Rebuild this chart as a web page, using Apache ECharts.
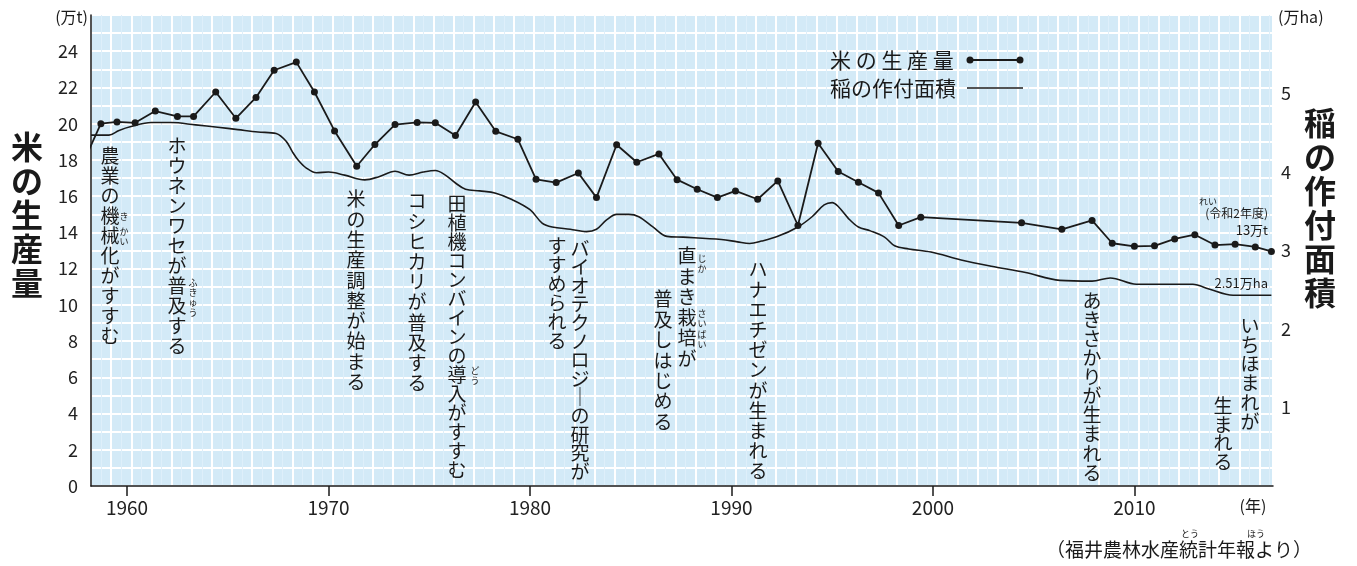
<!DOCTYPE html>
<html>
<head>
<meta charset="utf-8">
<script src="https://cdn.jsdelivr.net/npm/echarts@6.0.0/dist/echarts.min.js"></script>
<style>
  html, body { margin: 0; padding: 0; background: #fff; }
  #chart { width: 1357px; height: 566px; }
</style>
</head>
<body>
<div id="chart"></div>
<script>
// 米の生産量（万t）: 年と値
var prodYears = [1957.7, 1958.7, 1959.5, 1960.4, 1961.4, 1962.5, 1963.3, 1964.4, 1965.4, 1966.4,
  1967.3, 1968.4, 1969.3, 1970.3, 1971.4, 1972.3, 1973.3, 1974.4, 1975.3, 1976.3,
  1977.3, 1978.3, 1979.4, 1980.3, 1981.3, 1982.4, 1983.3, 1984.3, 1985.3, 1986.4,
  1987.3, 1988.3, 1989.3, 1990.2, 1991.3, 1992.3, 1993.3, 1994.3, 1995.3, 1996.3,
  1997.3, 1998.3, 1999.4, 2004.4, 2006.4, 2007.9, 2008.9, 2010.0, 2011.0, 2012.0,
  2013.0, 2014.0, 2015.0, 2016.0, 2016.8]
var prodTons = [17.56, 20.0, 20.1, 20.05, 20.7, 20.4, 20.4, 21.75, 20.3, 21.45,
  22.95, 23.4, 21.75, 19.6, 17.65, 18.85, 19.95, 20.07, 20.05, 19.35,
  21.2, 19.58, 19.14, 16.93, 16.75, 17.28, 15.92, 18.84, 17.87, 18.33,
  16.91, 16.38, 15.92, 16.29, 15.83, 16.84, 14.38, 18.92, 17.36, 16.77,
  16.18, 14.38, 14.84, 14.53, 14.17, 14.66, 13.4, 13.23, 13.26, 13.64,
  13.87, 13.3, 13.35, 13.2, 12.95]

// 稲の作付面積（万ha）
var areaYears = [1958.21, 1959.1, 1959.6, 1960.2, 1961.2, 1962.2, 1963.4, 1964.5, 1965.5, 1966.5,
  1967.4, 1967.9, 1968.2, 1968.5, 1968.9, 1969.4, 1970.0, 1970.8, 1971.8, 1972.5,
  1973.3, 1974.0, 1974.7, 1975.3, 1975.8, 1976.3, 1976.8, 1977.5, 1978.3, 1979.1,
  1980.0, 1980.6, 1981.1, 1982.0, 1982.8, 1983.3, 1983.8, 1984.3, 1984.9, 1985.4,
  1986.1, 1986.8, 1987.6, 1989.5, 1990.3, 1990.9, 1991.5, 1992.3, 1993.3, 1994.0,
  1994.6, 1995.0, 1995.3, 1995.8, 1996.3, 1996.9, 1997.6, 1998.1, 1998.8, 1999.9,
  2001.4, 2002.9, 2004.6, 2006.3, 2007.9, 2008.8, 2010.1, 2012.9, 2013.7, 2014.9,
  2016.8]
var areaHa = [4.47, 4.47, 4.53, 4.58, 4.63, 4.63, 4.60, 4.57, 4.54, 4.51,
  4.49, 4.39, 4.26, 4.15, 4.05, 3.99, 4.00, 3.96, 3.90, 3.94,
  4.01, 3.96, 4.00, 4.02, 3.96, 3.86, 3.78, 3.76, 3.73, 3.65,
  3.52, 3.35, 3.30, 3.27, 3.24, 3.27, 3.39, 3.46, 3.46, 3.43,
  3.30, 3.18, 3.17, 3.14, 3.11, 3.09, 3.12, 3.18, 3.30, 3.43,
  3.58, 3.61, 3.56, 3.41, 3.30, 3.25, 3.17, 3.06, 3.02, 2.98,
  2.88, 2.80, 2.72, 2.62, 2.61, 2.65, 2.57, 2.57, 2.51, 2.43,
  2.43]

var decadeTicks = [1960, 1970, 1980, 1990, 2000, 2010]

var FONT = '"Noto Sans CJK JP", sans-serif'
var INK = '#1a1a1a'

// 縦書きテキスト（1文字ずつ改行）
function vText (str, x, top, size, lh, extra) {
  var style = {
    text: str.split('').join('\n'),
    fontSize: size,
    fontFamily: FONT,
    lineHeight: lh,
    fill: INK,
    textAlign: 'center',
    textVerticalAlign: 'top'
  }
  if (extra) Object.keys(extra).forEach(function (k) { style[k] = extra[k] })
  return { type: 'text', x: x, y: top, z: 10, style: style }
}
function hText (str, x, y, size, align) {
  return {
    type: 'text', x: x, y: y, z: 10,
    style: { text: str, fontSize: size, fontFamily: FONT, fill: INK,
      textAlign: align || 'left', textVerticalAlign: 'middle' }
  }
}

var chart = echarts.init(document.getElementById('chart'))

var graphics = [
  // 軸タイトル
  vText('米の生産量', 27, 130, 32, 34, { fontWeight: 'bold' }),
  vText('稲の作付面積', 1320, 106, 32, 34, { fontWeight: 'bold' }),
  hText('(万t)', 88, 17, 16, 'right'),
  hText('(万ha)', 1278, 17, 16, 'left'),
  hText('(年)', 1253, 506, 16, 'center'),
  hText('（福井農林水産統計年報より）', 1046, 550, 19, 'left'),
  hText('とう', 1190, 534, 9, 'center'),
  hText('ほう', 1256, 534, 9, 'center'),

  // 凡例
  hText('米 の 生 産 量', 830, 60, 21, 'left'),
  hText('稲の作付面積', 830, 88, 21, 'left'),
  { type: 'line', z: 10, shape: { x1: 970, y1: 60, x2: 1020, y2: 60 }, style: { stroke: INK, lineWidth: 1.8 } },
  { type: 'circle', z: 10, shape: { cx: 970, cy: 60, r: 3.5 }, style: { fill: INK } },
  { type: 'circle', z: 10, shape: { cx: 1020, cy: 60, r: 3.5 }, style: { fill: INK } },
  { type: 'line', z: 10, shape: { x1: 967, y1: 88, x2: 1023, y2: 88 }, style: { stroke: INK, lineWidth: 1.6 } },

  // 最新値の注記
  hText('れい', 1208, 202, 9, 'center'),
  hText('(令和2年度)', 1268, 213, 12, 'right'),
  hText('13万t', 1268, 230, 13, 'right'),
  hText('2.51万ha', 1268, 283, 13, 'right'),

  // できごと
  vText('農業の機械化がすすむ', 110, 146, 19, 20),
  vText('き', 124, 212, 9, 10),
  vText('かい', 124, 227, 9, 10),
  vText('ホウネンワセが普及する', 177, 136, 19, 20),
  vText('ふきゅう', 193, 278, 9, 10),
  vText('米の生産調整が始まる', 356, 189, 19, 20.3),
  vText('コシヒカリが普及する', 417, 191, 19, 20.2),
  vText('田植機コンバインの導入がすすむ', 457, 194, 19, 19),
  vText('どう', 475, 366, 9, 10),
  vText('バイオテクノロジ｜の研究が', 580, 239, 19, 18.6),
  vText('すすめられる', 557, 236, 19, 19),
  vText('直まき栽培が', 687, 246, 19, 20.5),
  vText('じか', 702, 254, 9, 10),
  vText('さいばい', 702, 308, 9, 10.5),
  vText('普及しはじめる', 663, 289, 19, 20.4),
  vText('ハナエチゼンが生まれる', 758, 259, 19, 20.2),
  vText('あきさかりが生まれる', 1092, 291, 19, 19.1),
  vText('いちほまれが', 1250, 316, 19, 19.2),
  vText('生まれる', 1223, 397, 19, 18.4)
]

chart.setOption({
  animation: false,
  grid: {
    left: 91, right: 84, top: 15, bottom: 80,
    show: true, backgroundColor: '#d3eaf7', borderColor: '#777', borderWidth: 1
  },
  xAxis: [
    {
      type: 'value', min: 1958.21, max: 2016.88,
      axisLine: { lineStyle: { color: INK, width: 1.5 } },
      axisTick: { customValues: decadeTicks, length: 10, lineStyle: { color: INK, width: 1.5 } },
      axisLabel: {
        customValues: decadeTicks, fontSize: 19, color: '#222', fontFamily: FONT, margin: 12,
        formatter: function (v) { return String(v) }
      },
      splitLine: { show: false }
    },
    {
      // 背景の方眼（縦線）
      type: 'value', min: 1958.56, max: 2017.23, interval: 1, position: 'bottom',
      axisLine: { show: false }, axisTick: { show: false }, axisLabel: { show: false },
      splitLine: { show: true, lineStyle: { color: '#ffffff', width: 2 } },
      minorTick: { show: false, splitNumber: 2 },
      minorSplitLine: { show: true, lineStyle: { color: '#deeffa', width: 1 } }
    }
  ],
  yAxis: [
    {
      type: 'value', min: 0, max: 26, interval: 2, position: 'left',
      axisLine: { show: true, lineStyle: { color: INK, width: 1.5 } },
      axisTick: { show: false },
      axisLabel: {
        fontSize: 18, color: '#222', fontFamily: FONT, margin: 13,
        formatter: function (v) { return v === 26 ? '' : String(v) }
      },
      splitLine: { show: true, lineStyle: { color: '#ffffff', width: 2 } },
      minorTick: { show: false, splitNumber: 2 },
      minorSplitLine: { show: true, lineStyle: { color: '#ffffff', width: 2 } }
    },
    {
      type: 'value', min: 0, max: 6, interval: 1, position: 'right',
      axisLine: { show: false }, axisTick: { show: false },
      axisLabel: {
        fontSize: 18, color: '#222', fontFamily: FONT, margin: 8,
        formatter: function (v) { return (v === 0 || v === 6) ? '' : String(v) }
      },
      splitLine: { show: false }
    }
  ],
  series: [
    {
      name: '米の生産量',
      type: 'line',
      xAxisIndex: 0, yAxisIndex: 0,
      data: prodYears.map(function (y, i) { return [y, prodTons[i]] }),
      symbol: 'circle', symbolSize: 7,
      itemStyle: { color: INK },
      lineStyle: { color: INK, width: 1.8 },
      z: 4
    },
    {
      name: '稲の作付面積',
      type: 'line',
      xAxisIndex: 0, yAxisIndex: 1,
      data: areaYears.map(function (y, i) { return [y, areaHa[i]] }),
      smooth: 0.35,
      showSymbol: false,
      itemStyle: { color: INK },
      lineStyle: { color: INK, width: 1.6 },
      z: 3
    }
  ],
  graphic: graphics
})
</script>
</body>
</html>
